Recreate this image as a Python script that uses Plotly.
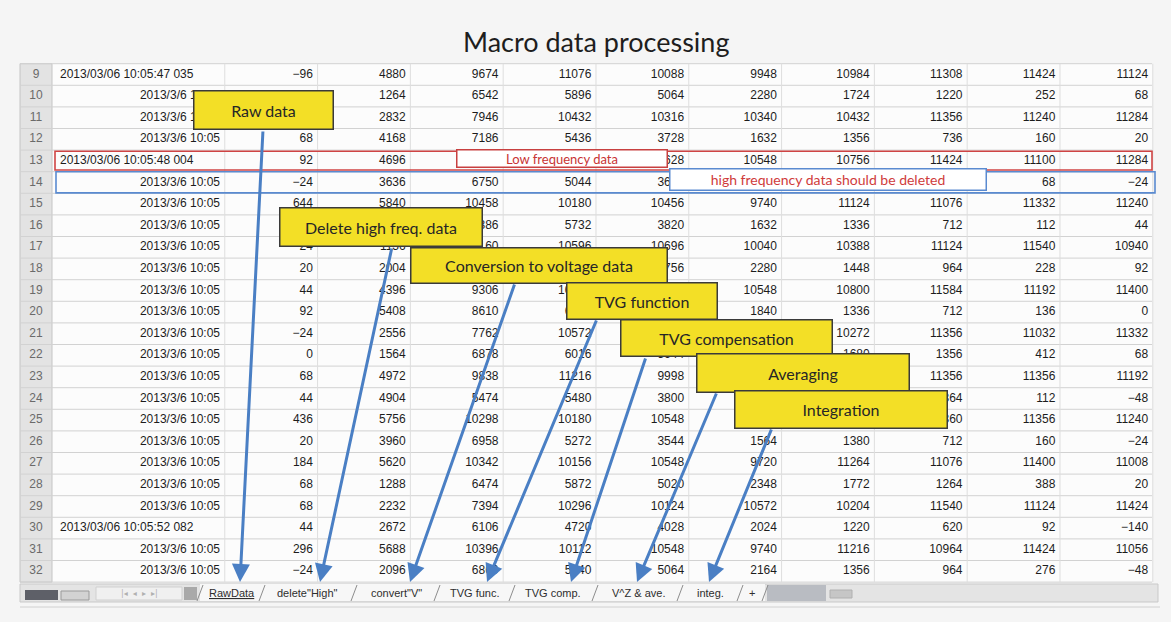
import plotly.graph_objects as go

W, H = 1171, 622

# ---------------- data (rows 9..32 of the spreadsheet) ----------------
rows = list(range(9, 33))
dates = ["2013/03/06 10:05:47 035", "2013/3/6 10:05", "2013/3/6 10:05", "2013/3/6 10:05",
         "2013/03/06 10:05:48 004", "2013/3/6 10:05", "2013/3/6 10:05", "2013/3/6 10:05",
         "2013/3/6 10:05", "2013/3/6 10:05", "2013/3/6 10:05", "2013/3/6 10:05",
         "2013/3/6 10:05", "2013/3/6 10:05", "2013/3/6 10:05", "2013/3/6 10:05",
         "2013/3/6 10:05", "2013/3/6 10:05", "2013/3/6 10:05", "2013/3/6 10:05",
         "2013/3/6 10:05", "2013/03/06 10:05:52 082", "2013/3/6 10:05", "2013/3/6 10:05"]
col_B = [-96, 116, 20, 68, 92, -24, 644, 68, -24, 20, 44, 92, -24, 0, 68, 44, 436, 20, 184, 68, 68, 44, 296, -24]
col_C = [4880, 1264, 2832, 4168, 4696, 3636, 5840, 1920, 1136, 2004, 4396, 5408, 2556, 1564, 4972, 4904, 5756, 3960, 5620, 1288, 2232, 2672, 5688, 2096]
col_D = [9674, 6542, 7946, 7186, 10236, 6750, 10458, 7386, 10160, 7212, 9306, 8610, 7762, 6878, 9838, 5474, 10298, 6958, 10342, 6474, 7394, 6106, 10396, 6860]
col_E = [11076, 5896, 10432, 5436, 10848, 5044, 10180, 5732, 10596, 5848, 10864, 6332, 10572, 6016, 11216, 5480, 10180, 5272, 10156, 5872, 10296, 4720, 10112, 5040]
col_F = [10088, 5064, 10316, 3728, 10628, 3652, 10456, 3820, 10696, 3756, 10548, 3748, 10548, 5644, 9998, 3800, 10548, 3544, 10548, 5020, 10124, 4028, 10548, 5064]
col_G = [9948, 2280, 10340, 1632, 10548, 1840, 9740, 1632, 10040, 2280, 10548, 1840, 10388, 2076, 10236, 1840, 10548, 1564, 9720, 2348, 10572, 2024, 9740, 2164]
col_H = [10984, 1724, 10432, 1356, 10756, 1336, 11124, 1336, 10388, 1448, 10800, 1336, 10272, 1680, 10572, 1380, 10800, 1380, 11264, 1772, 10204, 1220, 11216, 1356]
col_I = [11308, 1220, 11356, 736, 11424, 712, 11076, 712, 11124, 964, 11584, 712, 11356, 1356, 11356, 1364, 11360, 712, 11076, 1264, 11540, 620, 10964, 964]
col_J = [11424, 252, 11240, 160, 11100, 68, 11332, 112, 11540, 228, 11192, 136, 11032, 412, 11356, 112, 11356, 160, 11400, 388, 11124, 92, 11424, 276]
col_K = [11124, 68, 11284, 20, 11284, -24, 11240, 44, 10940, 92, 11400, 0, 11332, 68, 11192, -48, 11240, -24, 11008, 20, 11424, -140, 11056, -48]
value_columns = [col_B, col_C, col_D, col_E, col_F, col_G, col_H, col_I, col_J, col_K]

sheet_tabs = ["RawData", "delete\"High\"", "convert\"V\"", "TVG func.", "TVG comp.", "V^Z & ave.", "integ.", "+"]
steps = ["Raw data", "Delete high freq. data", "Conversion to voltage data", "TVG function",
         "TVG compensation", "Averaging", "Integration"]
title = "Macro data processing"

# ---------------- layout geometry (pixels -> axis units) ----------------
UX, X_REF = 92.8, 312.0          # one column = 92.8 px; right edge of column 1 text at 312 px
UY, Y_REF = 21.6, 74.5           # one row = 21.6 px; row 9 centre at 74.5 px


def xd(px):
    return 1 + (px - X_REF) / UX


def yd(py):
    return 9 + (py - Y_REF) / UY


def pxp(px):
    return px / W


def pyp(py):
    return 1 - py / H


fig = go.Figure()

NUM_FONT = dict(family="Liberation Sans, Arial", size=12, color="#1c1c1c")


def fmt(v):
    return str(v).replace("-", "\u2212")


# numeric cells, right aligned in each column
for k, col in enumerate(value_columns, start=1):
    fig.add_trace(go.Scatter(
        x=[k + 0.01] * len(rows), y=rows, mode="text",
        text=[fmt(v) for v in col], textposition="middle left",
        textfont=NUM_FONT, cliponaxis=False, hoverinfo="skip"))

# date column (text dates left aligned, date values right aligned)
long_r = [r for r, d in zip(rows, dates) if len(d) > 16]
long_t = [d for d in dates if len(d) > 16]
short_r = [r for r, d in zip(rows, dates) if len(d) <= 16]
short_t = [d for d in dates if len(d) <= 16]
fig.add_trace(go.Scatter(x=[xd(60)] * len(long_r), y=long_r, mode="text", text=long_t,
                         textposition="middle right", textfont=NUM_FONT,
                         cliponaxis=False, hoverinfo="skip"))
fig.add_trace(go.Scatter(x=[xd(220)] * len(short_r), y=short_r, mode="text", text=short_t,
                         textposition="middle left", textfont=NUM_FONT,
                         cliponaxis=False, hoverinfo="skip"))
# row numbers
fig.add_trace(go.Scatter(x=[xd(36)] * len(rows), y=rows, mode="text", text=[str(r) for r in rows],
                         textposition="middle center",
                         textfont=dict(family="Liberation Sans, Arial", size=12, color="#6a6a6a"),
                         cliponaxis=False, hoverinfo="skip"))

shapes = []
tx0, tx1 = xd(52), xd(1152)
ty0, ty1 = rows[0] - 0.5, rows[-1] + 0.5
# table background & row-number column
shapes.append(dict(type="rect", xref="x", yref="y", x0=tx0, x1=tx1, y0=ty0, y1=ty1,
                   fillcolor="#fcfcfc", line=dict(width=0), layer="below"))
shapes.append(dict(type="rect", xref="x", yref="y", x0=xd(20), x1=tx0, y0=ty0, y1=ty1,
                   fillcolor="#e3e3e3", line=dict(color="#c4c4c4", width=1), layer="below"))
# horizontal grid lines
for r in [rows[0] - 0.5] + [r + 0.5 for r in rows]:
    shapes.append(dict(type="line", xref="x", yref="y", x0=xd(20), x1=tx1, y0=r, y1=r,
                       line=dict(color="#d2d2d2", width=1), layer="below"))
# vertical grid lines
for k in range(0, 11):
    shapes.append(dict(type="line", xref="x", yref="y", x0=k + 0.06, x1=k + 0.06, y0=ty0, y1=ty1,
                       line=dict(color="#dedede", width=1), layer="below"))

# red outline around row 13 and blue outline around row 14
shapes.append(dict(type="rect", xref="x", yref="y", x0=xd(55), x1=xd(1152), y0=12.55, y1=13.42,
                   line=dict(color="#cf4444", width=1.6), layer="above"))
shapes.append(dict(type="rect", xref="x", yref="y", x0=xd(56), x1=xd(1155), y0=13.5, y1=14.48,
                   line=dict(color="#5a8ad0", width=1.6), layer="above"))

# sheet tab bar
bar_y0, bar_y1 = 584, 602
shapes.append(dict(type="rect", xref="paper", yref="paper", x0=pxp(20), x1=pxp(1158),
                   y0=pyp(bar_y1), y1=pyp(bar_y0), fillcolor="#e4e4e4",
                   line=dict(color="#c9c9c9", width=1), layer="below"))
shapes.append(dict(type="rect", xref="paper", yref="paper", x0=pxp(25), x1=pxp(58),
                   y0=pyp(600), y1=pyp(590), fillcolor="#5e6068", line=dict(width=0)))
shapes.append(dict(type="rect", xref="paper", yref="paper", x0=pxp(61), x1=pxp(89),
                   y0=pyp(600), y1=pyp(591), fillcolor="#d2d2d2", line=dict(color="#9a9a9a", width=1)))
shapes.append(dict(type="rect", xref="paper", yref="paper", x0=pxp(96), x1=pxp(182),
                   y0=pyp(600), y1=pyp(587), fillcolor="#f0f0f0", line=dict(color="#d0d0d0", width=1)))
shapes.append(dict(type="rect", xref="paper", yref="paper", x0=pxp(184), x1=pxp(197),
                   y0=pyp(600), y1=pyp(587), fillcolor="#a9a9a9", line=dict(width=0)))
shapes.append(dict(type="rect", xref="paper", yref="paper", x0=pxp(200), x1=pxp(765),
                   y0=pyp(601), y1=pyp(584), fillcolor="#f7f7f7", line=dict(width=0)))
shapes.append(dict(type="rect", xref="paper", yref="paper", x0=pxp(767), x1=pxp(826),
                   y0=pyp(601), y1=pyp(585), fillcolor="#b9bcc2", line=dict(width=0)))
shapes.append(dict(type="rect", xref="paper", yref="paper", x0=pxp(830), x1=pxp(852),
                   y0=pyp(598), y1=pyp(590), fillcolor="#c6c6c6", line=dict(color="#b0b0b0", width=1)))
shapes.append(dict(type="line", xref="paper", yref="paper", x0=pxp(20), x1=pxp(1160),
                   y0=pyp(607), y1=pyp(607), line=dict(color="#d0d0d0", width=1)))
tab_edges = [200, 262, 354, 437, 512, 595, 680, 740, 765]
for e in tab_edges:
    shapes.append(dict(type="line", xref="paper", yref="paper", x0=pxp(e - 3), x1=pxp(e + 3),
                       y0=pyp(601), y1=pyp(585), line=dict(color="#8d8d8d", width=1)))

annotations = []
CENTER = dict(xref="paper", yref="paper", xanchor="center", yanchor="middle", showarrow=False)
annotations.append(dict(x=pxp(596), y=pyp(42), text=title,
                        font=dict(family="Lato, Open Sans", size=27, color="#1e1e1e"), **CENTER))

# tab labels
tab_centres = [232, 307, 396, 475, 553, 638, 710, 752]
for t, cx in zip(sheet_tabs, tab_centres):
    label = "<u>" + t + "</u>" if t == "RawData" else t
    annotations.append(dict(x=pxp(cx), y=pyp(593), text=label,
                            font=dict(family="Liberation Sans, Arial", size=11, color="#2e2e2e"),
                            **CENTER))
annotations.append(dict(x=pxp(139), y=pyp(593), text="|\u25c2  \u25c2  \u25b8  \u25b8|",
                        font=dict(family="DejaVu Sans", size=8, color="#b0b0b0"), **CENTER))

# blue arrows from each step box to its sheet tab
arrow_tails = [(263, 130), (392, 247), (515, 283), (597, 319), (646, 357), (717, 392), (772, 428)]
arrow_tips = [(240, 582), (320, 582), (410, 582), (487, 582), (571, 582), (637, 582), (709, 582)]
for (ax_, ay_), (tx, ty) in zip(arrow_tails, arrow_tips):
    annotations.append(dict(x=pxp(tx), y=pyp(ty), xref="paper", yref="paper",
                            ax=ax_ - tx, ay=ay_ - ty, axref="pixel", ayref="pixel",
                            text="", showarrow=True, arrowhead=2, arrowsize=1.2,
                            arrowwidth=3, arrowcolor="#4a7fc4", standoff=0, startstandoff=0))

# label boxes on rows 13 / 14
annotations.append(dict(x=pxp(562), y=pyp(158.5), text="Low frequency data", width=209, height=16,
                        bgcolor="#ffffff", bordercolor="#c84040", borderwidth=1.5, borderpad=0,
                        font=dict(family="Lato, Open Sans", size=13, color="#c83434"), **CENTER))
annotations.append(dict(x=pxp(828), y=pyp(179), text="high frequency data should be deleted",
                        width=315, height=20,
                        bgcolor="#ffffff", bordercolor="#5a8ad0", borderwidth=1.5, borderpad=0,
                        font=dict(family="Lato, Open Sans", size=14, color="#cf3b3b"), **CENTER))

# yellow step boxes (x0, x1, y0, y1 in px)
step_boxes = [(193, 333, 91, 130), (280, 483, 208, 247), (410, 667, 247, 283), (566, 717, 282, 319),
              (620, 832, 320, 357), (696, 909, 353, 392), (734, 947, 390, 428)]
for s, (x0, x1, y0, y1) in zip(steps, step_boxes):
    annotations.append(dict(x=pxp((x0 + x1) / 2), y=pyp((y0 + y1) / 2),
                            text=s, width=x1 - x0 - 2, height=y1 - y0 - 2,
                            bgcolor="#f3df26", bordercolor="#3a3a3a", borderwidth=1.5, borderpad=0,
                            font=dict(family="Lato, Open Sans", size=16, color="#262626"), **CENTER))

fig.update_layout(
    width=W, height=H, margin=dict(l=0, r=0, t=0, b=0),
    paper_bgcolor="#f5f5f5", plot_bgcolor="#f5f5f5", showlegend=False,
    xaxis=dict(range=[xd(0), xd(W)], visible=False, fixedrange=True),
    yaxis=dict(range=[yd(H), yd(0)], visible=False, fixedrange=True),
    shapes=shapes, annotations=annotations,
)

fig.write_html("out.html", config={"displayModeBar": False},
               post_script="document.body.style.margin='0';")
